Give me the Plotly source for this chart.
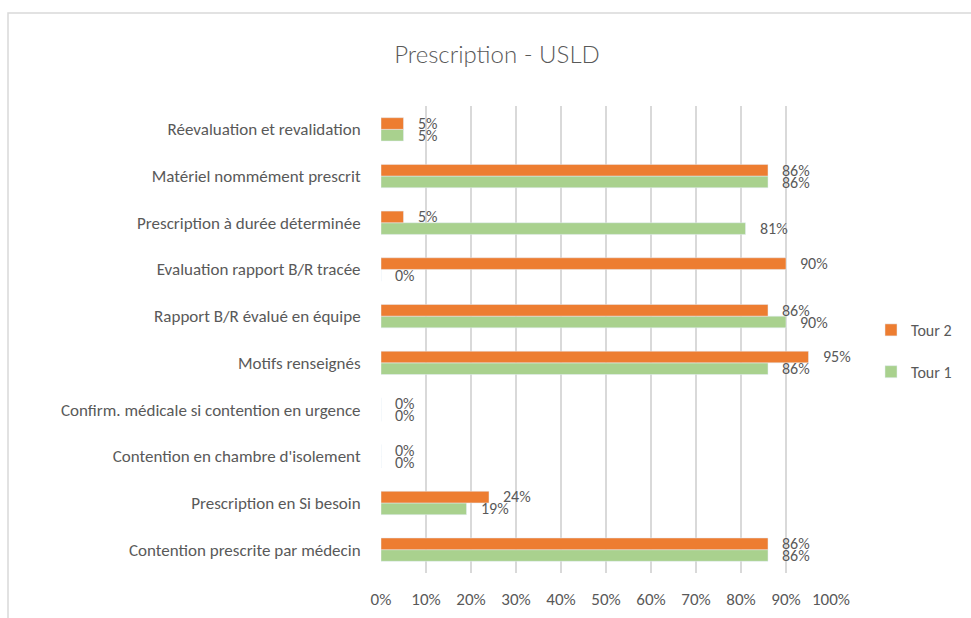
import plotly.graph_objects as go

categories = [
    "Contention prescrite par médecin",
    "Prescription en Si besoin",
    "Contention en chambre d'isolement",
    "Confirm. médicale si contention en urgence",
    "Motifs renseignés",
    "Rapport B/R évalué en équipe",
    "Evaluation rapport B/R tracée",
    "Prescription à durée déterminée",
    "Matériel nommément prescrit",
    "Réevaluation et revalidation",
]
tour1 = [0.86, 0.19, 0.0, 0.0, 0.86, 0.90, 0.0, 0.81, 0.86, 0.05]
tour2 = [0.86, 0.24, 0.0, 0.0, 0.95, 0.86, 0.90, 0.05, 0.86, 0.05]
xticks = [0, 0.1, 0.2, 0.3, 0.4, 0.5, 0.6, 0.7, 0.8, 0.9, 1.0]
xticklabels = ["0%", "10%", "20%", "30%", "40%", "50%", "60%", "70%", "80%", "90%", "100%"]

FONT = "Carlito, Lato, sans-serif"
TXT = "#595959"
ORANGE = "#ED7D31"
GREEN = "#A9D18E"

W, H = 971, 618
L, R, T, B = 381, 140, 106, 45

fig = go.Figure()
fig.add_trace(go.Bar(y=categories, x=tour1, orientation="h", name="Tour 1",
                     marker=dict(color=GREEN), legendgroup="t1", legendrank=2))
fig.add_trace(go.Bar(y=categories, x=tour2, orientation="h", name="Tour 2",
                     marker=dict(color=ORANGE), legendgroup="t2", legendrank=1))

annotations = []
for vals, ysh in ((tour2, 6), (tour1, -6)):
    for c, v in zip(categories, vals):
        annotations.append(dict(x=v, y=c, xref="x", yref="y", text=f"{round(v*100)}%",
                                showarrow=False, xanchor="left", yanchor="middle",
                                xshift=12, yshift=ysh,
                                font=dict(family=FONT, size=16, color=TXT)))

pw = W - L - R
ph = H - T - B
def px2paper_x(px):
    return (px - L) / pw
def px2paper_y(py):
    return (H - B - py) / ph

fig.update_layout(
    width=W, height=H,
    margin=dict(l=L, r=R, t=T, b=B, autoexpand=False),
    paper_bgcolor="white", plot_bgcolor="white",
    barmode="group", bargap=0.5, bargroupgap=0,
    font=dict(family=FONT, size=16, color=TXT),
    title=dict(text="Prescription - USLD", x=497 / W, xanchor="center",
               y=1 - 55 / H, yanchor="middle",
               font=dict(family="Lato Light, Lato, sans-serif", size=24, color=TXT)),
    xaxis=dict(range=[0, 1], tickvals=xticks, ticktext=xticklabels,
               showgrid=True, gridcolor="#D9D9D9", gridwidth=2,
               zeroline=False, showline=False,
               ticks="outside", ticklen=11, tickcolor="rgba(0,0,0,0)",
               tickfont=dict(family=FONT, size=17, color=TXT), fixedrange=True),
    yaxis=dict(categoryorder="array", categoryarray=categories,
               showgrid=False, zeroline=False, showline=False,
               ticks="outside", ticklen=16, tickcolor="rgba(0,0,0,0)",
               tickfont=dict(family=FONT, size=17, color=TXT), fixedrange=True),
    legend=dict(x=(871 - L) / pw, xanchor="left", y=px2paper_y(313), yanchor="top",
                traceorder="grouped", tracegroupgap=18,
                font=dict(family=FONT, size=16, color=TXT),
                itemwidth=30, bgcolor="rgba(0,0,0,0)"),
    annotations=annotations,
    shapes=[dict(type="rect", xref="paper", yref="paper",
                 x0=px2paper_x(8), x1=px2paper_x(1100),
                 y0=px2paper_y(700), y1=px2paper_y(13),
                 line=dict(color="#D9D9D9", width=1.5), fillcolor="rgba(0,0,0,0)",
                 layer="below")],
)

fig.write_html("out.html", config={"displayModeBar": False},
               post_script="document.body.style.margin='0';document.body.style.padding='0';")
